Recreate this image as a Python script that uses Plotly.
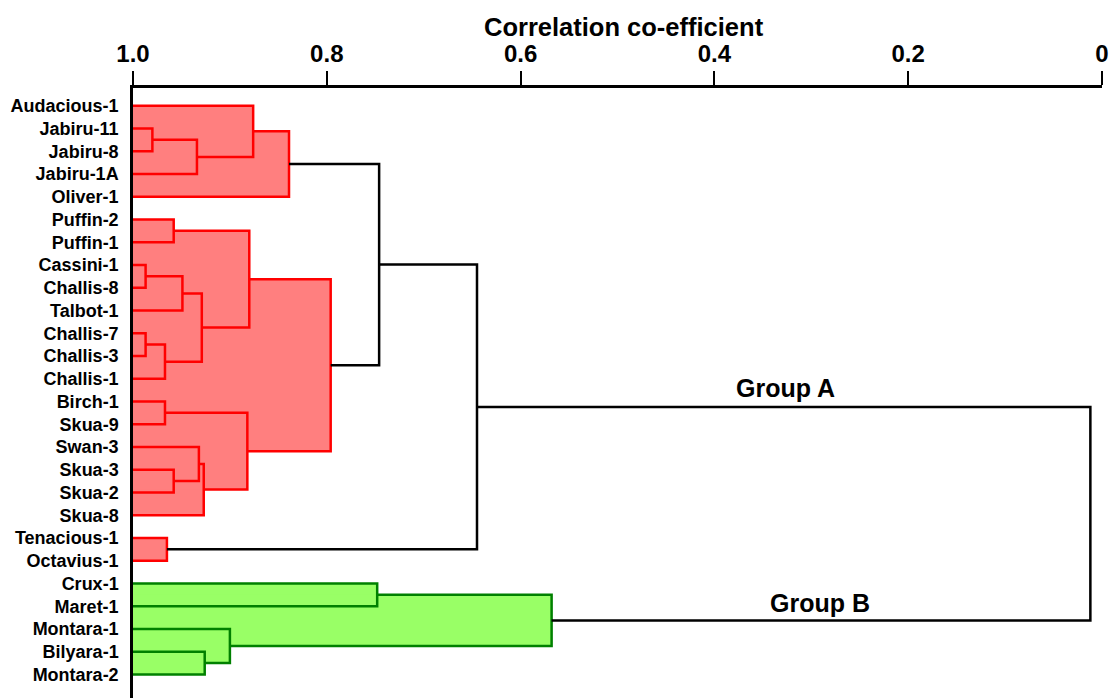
import plotly.graph_objects as go

# Leaf order (top to bottom) of the dendrogram
leaves = [
    "Audacious-1", "Jabiru-11", "Jabiru-8", "Jabiru-1A", "Oliver-1",
    "Puffin-2", "Puffin-1", "Cassini-1", "Challis-8", "Talbot-1",
    "Challis-7", "Challis-3", "Challis-1", "Birch-1", "Skua-9",
    "Swan-3", "Skua-3", "Skua-2", "Skua-8", "Tenacious-1",
    "Octavius-1", "Crux-1", "Maret-1", "Montara-1", "Bilyara-1",
    "Montara-2",
]

# Linkage: children are leaf indices (0..25) or earlier merge ids (26+)
merge_left = [1, 26, 0, 28, 5, 7, 31, 10, 33, 32, 30, 13, 16, 15, 39, 37, 36,
              19, 21, 24, 23, 44, 29, 48, 49]
merge_right = [2, 3, 27, 4, 6, 8, 9, 11, 12, 34, 35, 14, 17, 38, 18, 40, 41,
               20, 22, 25, 45, 46, 42, 43, 47]
merge_corr = [0.980, 0.934, 0.876, 0.839, 0.958, 0.987, 0.949, 0.987, 0.967,
              0.929, 0.880, 0.967, 0.958, 0.932, 0.927, 0.882, 0.796,
              0.965, 0.748, 0.926, 0.900, 0.568, 0.746, 0.645, 0.012]
merge_group = ["A", "A", "A", "A", "A", "A", "A", "A", "A", "A", "A", "A",
               "A", "A", "A", "A", "A", "A", "B", "B", "B", "B",
               "link", "link", "link"]

tick_vals = [1.0, 0.8, 0.6, 0.4, 0.2, 0.0]
tick_text = ["1.0", "0.8", "0.6", "0.4", "0.2", "0"]

line_color = {"A": "#FF0000", "B": "#008000", "link": "#000000"}
fill_color = {"A": "#FF7F7F", "B": "#99FF66"}

FONT = "Liberation Sans, Arial, sans-serif"

n = len(leaves)
node_y = {i: float(i) for i in range(n)}
node_h = {i: 1.0 for i in range(n)}
for k, (a, b, h) in enumerate(zip(merge_left, merge_right, merge_corr)):
    node_y[n + k] = (node_y[a] + node_y[b]) / 2.0
    node_h[n + k] = h

fig = go.Figure()

# Shaded cluster envelopes: one rectangle per merge, from the axis to its height
for a, b, h, g in zip(merge_left, merge_right, merge_corr, merge_group):
    if g not in fill_color:
        continue
    ya, yb = node_y[a], node_y[b]
    fig.add_trace(go.Scatter(
        x=[1.0, h, h, 1.0, 1.0], y=[ya, ya, yb, yb, ya],
        mode="lines", fill="toself", fillcolor=fill_color[g],
        line=dict(width=0), hoverinfo="skip", showlegend=False,
    ))

# Dendrogram links, grouped by colour
for g, col in line_color.items():
    xs, ys = [], []
    for a, b, h, gg in zip(merge_left, merge_right, merge_corr, merge_group):
        if gg != g:
            continue
        xs += [node_h[a], h, h, node_h[b], None]
        ys += [node_y[a], node_y[a], node_y[b], node_y[b], None]
    fig.add_trace(go.Scatter(
        x=xs, y=ys, mode="lines", line=dict(color=col, width=2.5),
        hoverinfo="skip", showlegend=False,
    ))

fig.update_layout(
    width=1112, height=698,
    margin=dict(l=133, r=10, t=88, b=0),
    plot_bgcolor="white", paper_bgcolor="white",
    font=dict(family=FONT, color="black"),
    xaxis=dict(
        range=[1.0, 0.0], side="top", showgrid=False, zeroline=False,
        showline=True, linecolor="black", linewidth=2.5,
        ticks="outside", ticklen=14, tickwidth=2, tickcolor="black",
        tickvals=tick_vals, ticktext=tick_text,
        tickfont=dict(family=FONT, size=24, weight="bold"),
    ),
    yaxis=dict(
        range=[26.035, -0.778], showgrid=False, zeroline=False,
        showline=True, linecolor="black", linewidth=2.5,
        ticks="outside", ticklen=8, tickcolor="rgba(0,0,0,0)",
        tickvals=list(range(n)), ticktext=leaves,
        tickfont=dict(family=FONT, size=18, weight="bold"),
    ),
    annotations=[
        dict(text="Correlation co-efficient", xref="x", yref="paper",
             x=0.493, y=1.1, showarrow=False, xanchor="center",
             yanchor="middle",
             font=dict(family=FONT, size=25.5, weight="bold")),
        dict(text="Group A", xref="x", yref="y", x=0.327, y=12.41,
             showarrow=False, xanchor="center", yanchor="middle",
             font=dict(family=FONT, size=25, weight="bold")),
        dict(text="Group B", xref="x", yref="y", x=0.291, y=21.86,
             showarrow=False, xanchor="center", yanchor="middle",
             font=dict(family=FONT, size=25, weight="bold")),
    ],
)

fig.write_html("out.html")
